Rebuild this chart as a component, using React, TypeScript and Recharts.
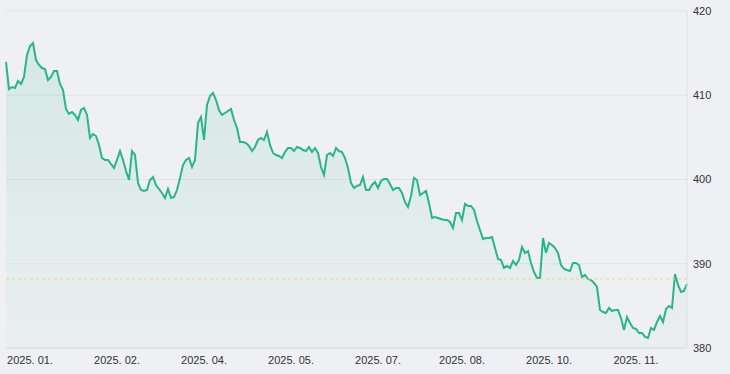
import React from 'react';
import {
  ComposedChart,
  Area,
  XAxis,
  YAxis,
  CartesianGrid,
  ReferenceLine,
} from 'recharts';

// daily closing values
const prices = [
  413.95, 410.74, 410.98, 410.86, 411.69, 411.34, 412.17, 414.78, 415.85, 416.2,
  414.18, 413.59, 413.23, 413.12, 411.81, 412.17, 412.88, 412.88, 411.34, 410.62,
  408.37, 407.78, 408.01, 407.66, 407.06, 408.25, 408.49, 407.66, 404.93, 405.4,
  405.16, 404.1, 402.55, 402.32, 402.32, 401.84, 401.37, 402.32, 403.38, 402.32,
  401.01, 399.94, 403.38, 402.91, 399.59, 398.75, 398.64, 398.75, 399.94, 400.3,
  399.35, 398.87, 398.4, 397.8, 398.87, 397.8, 397.92, 398.75, 400.18, 401.72,
  402.32, 402.55, 401.48, 402.32, 406.71, 407.42, 404.69, 408.84, 409.91, 410.27,
  409.44, 408.25, 407.66, 407.89, 408.13, 408.37, 407.06, 406.11, 404.45, 404.45,
  404.33, 403.98, 403.38, 403.86, 404.69, 404.93, 404.69, 405.64, 404.1, 403.15,
  402.91, 402.79, 402.55, 403.26, 403.74, 403.74, 403.38, 403.86, 403.74, 403.5,
  403.38, 403.86, 403.26, 403.74, 403.15, 401.48, 400.53, 402.91, 403.15, 402.79,
  403.74, 403.38, 403.26, 402.55, 401.37, 399.59, 398.99, 399.23, 399.35, 400.3,
  398.75, 398.75, 399.35, 399.7, 398.99, 399.82, 400.06, 400.06, 399.47, 398.75,
  398.99, 398.99, 398.4, 397.33, 396.74, 398.04, 400.18, 399.94, 398.16, 398.4,
  398.64, 397.21, 395.43, 395.55, 395.43, 395.31, 395.19, 395.19, 394.96, 394.24,
  396.02, 396.02, 395.19, 397.09, 396.86, 396.86, 396.38, 395.07, 394.01, 392.94,
  393.06, 393.06, 393.18, 391.87, 390.56, 390.45, 389.5, 389.73, 389.5, 390.33,
  389.85, 390.45, 391.99, 391.28, 391.51, 390.09, 389.02, 388.31, 388.31, 393.06,
  391.28, 392.46, 392.23, 391.87, 391.28, 389.85, 389.38, 389.26, 389.14, 390.09,
  390.09, 389.85, 388.43, 388.67, 388.19, 388.07, 387.72, 387.24, 384.51, 384.27,
  384.15, 384.75, 384.39, 384.51, 384.51, 383.56, 382.14, 383.68, 382.97, 382.37,
  382.26, 381.78, 381.78, 381.31, 381.19, 382.37, 382.14, 383.09, 383.8, 383.09,
  384.63, 384.99, 384.75, 388.78, 387.48, 386.65, 386.77, 387.6,
];

// x-axis labels and the day index they sit on
const tickIndex = [8, 37, 66, 95, 124, 152, 181, 210];
const tickLabels = [
  '2025. 01.',
  '2025. 02.',
  '2025. 04.',
  '2025. 05.',
  '2025. 07.',
  '2025. 08.',
  '2025. 10.',
  '2025. 11.',
];

const yTicks = [380, 390, 400, 410, 420];
const baseline = 388.2;

const data = prices.map((v, i) => ({ t: i, price: v }));

const LINE = '#2ab489';

export default function App() {
  return (
    <div
      style={{
        position: 'absolute',
        left: 0,
        top: 0,
        width: 730,
        height: 374,
        background: '#eff0f3',
        fontFamily: '"Liberation Sans", Arial, sans-serif',
      }}
    >
      <ComposedChart
        width={730}
        height={374}
        data={data}
        margin={{ top: 11, right: 0, left: 6, bottom: 0 }}
      >
        <defs>
          <linearGradient id="areaFill" x1="0" y1="0" x2="0" y2="1">
            <stop offset="0%" stopColor={LINE} stopOpacity={0.22} />
            <stop offset="100%" stopColor={LINE} stopOpacity={0.04} />
          </linearGradient>
        </defs>
        <CartesianGrid vertical={false} stroke="#e1e2e5" />
        <XAxis
          dataKey="t"
          type="number"
          domain={[0, prices.length - 1]}
          ticks={tickIndex}
          tickFormatter={(v) => tickLabels[tickIndex.indexOf(v)] ?? ''}
          height={26}
          tickSize={0}
          tickMargin={8}
          axisLine={{ stroke: '#dedfe2' }}
          tick={{ fontSize: 11, fill: '#333' }}
        />
        <YAxis
          orientation="right"
          domain={[380, 420]}
          ticks={yTicks}
          width={43}
          tickSize={0}
          tickMargin={6}
          axisLine={{ stroke: '#dedfe2' }}
          tick={{ fontSize: 11, fill: '#333' }}
        />
        <ReferenceLine
          y={baseline}
          stroke="#f3d27a"
          strokeDasharray="3 3"
          strokeWidth={1}
        />
        <Area
          type="linear"
          dataKey="price"
          stroke={LINE}
          strokeWidth={2}
          fill="url(#areaFill)"
          dot={false}
          isAnimationActive={false}
        />
      </ComposedChart>
    </div>
  );
}
